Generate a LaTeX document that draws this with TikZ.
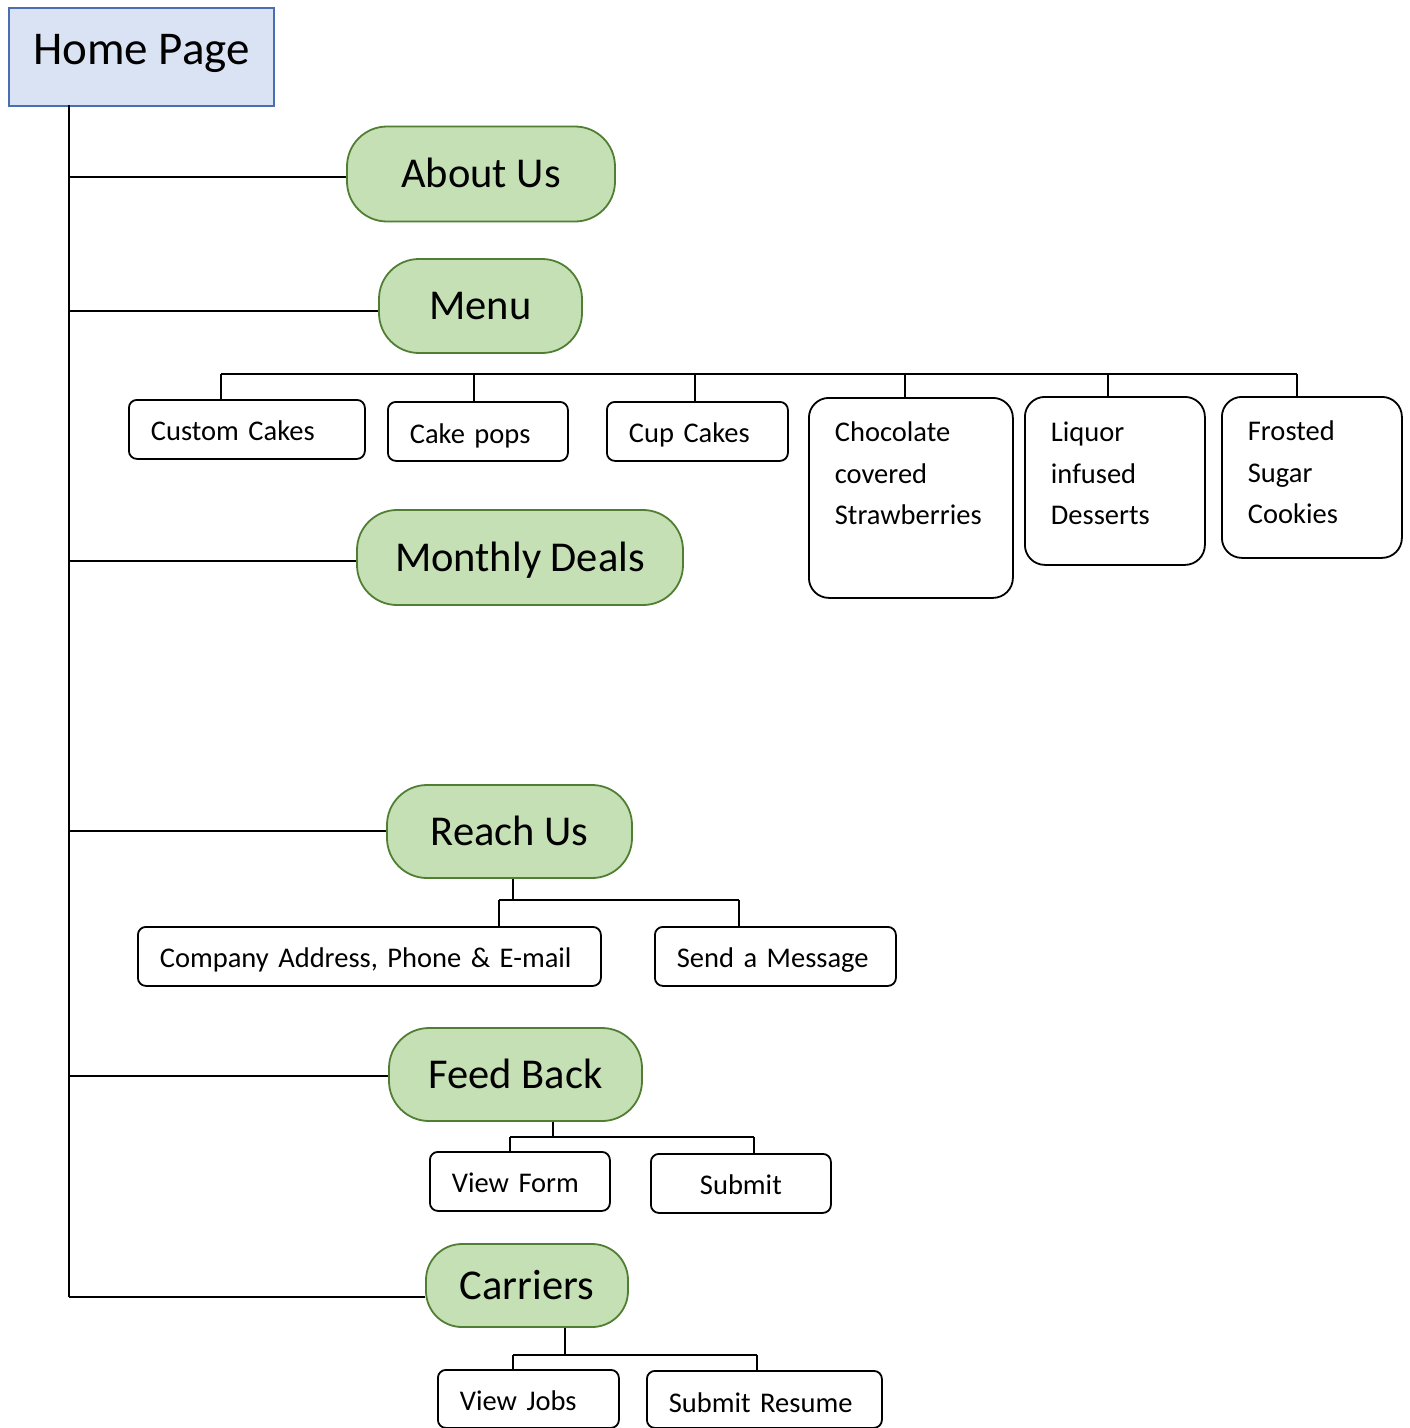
\documentclass[tikz,border=0pt]{standalone}
\usepackage{fontspec}
\setmainfont{Carlito}
\definecolor{homefill}{HTML}{DAE3F3}
\definecolor{homeborder}{HTML}{4A6FB0}
\definecolor{pillfill}{HTML}{C5E0B4}
\definecolor{pillborder}{HTML}{507E32}
\tikzset{
  homebox/.style={draw=homeborder, fill=homefill, line width=2pt, inner sep=0pt,
    minimum width=265pt, text height=56.5pt, text depth=41.5pt, anchor=north west,
    font=\fontsize{47}{56}\selectfont},
  pill/.style={draw=pillborder, fill=pillfill, line width=1.8pt, rounded corners=40pt,
    inner sep=0pt, text height=27pt, text depth=0pt, font=\fontsize{42.5}{50}\selectfont},
  item/.style={draw, line width=1.8pt, rounded corners=8pt, inner xsep=22pt, inner ysep=0pt,
    text height=41pt, text depth=18pt, align=left, anchor=north west,
    font=\fontsize{28.5}{41.5}\selectfont},
  tallitem/.style={item, rounded corners=20pt, inner xsep=26pt},
  conn/.style={line width=2pt, black}
}
\begin{document}
\begin{tikzpicture}[x=1pt,y=-1pt]
\useasboundingbox (0,0) rectangle (1410,1428);

% Home
\node[homebox] (home) at (8,7) {Home Page};

% main pills
\node[pill, minimum width=268pt, minimum height=95pt] (about) at (481,174) {About Us};
\node[pill, minimum width=203pt, minimum height=94pt] (menu) at (480.5,306) {Menu};
\node[pill, minimum width=326pt, minimum height=95pt] (deals) at (520,557.5) {Monthly Deals};
\node[pill, minimum width=245pt, minimum height=93pt] (reach) at (509.5,831.5) {Reach Us};
\node[pill, minimum width=253pt, minimum height=93pt] (feed) at (515.5,1074.5) {Feed Back};
\node[pill, minimum width=202pt, minimum height=83pt, rounded corners=36pt] (carr) at (527,1285.5) {Carriers};

% menu items
\node[item, text width=192pt] (cc) at (128,399) {Custom Cakes};
\node[item, text width=136pt, text height=42pt, text depth=17pt] (cp) at (387,401) {Cake pops};
\node[item, text width=137pt] (cup) at (606,401) {Cup Cakes};
\node[tallitem, text width=152pt, text height=44pt, text depth=156pt] (choc) at (808,397) {Chocolate\\covered\\Strawberries};
\node[tallitem, text width=128pt, text height=45pt, text depth=123pt] (liq) at (1024,396) {Liquor\\infused\\Desserts};
\node[tallitem, text width=128pt, text height=44pt, text depth=117pt] (fro) at (1221,396) {Frosted\\Sugar\\Cookies};

% reach items
\node[item, text width=419pt] (addr) at (137,926) {Company Address, Phone \& E-mail};
\node[item, text width=197pt] (msg) at (654,926) {Send a Message};

% feed items
\node[item, text width=136pt] (vf) at (429,1151) {View Form};
\node[item, text width=136pt, align=center] (sub) at (650,1153) {Submit};

% carriers items
\node[item, text width=137pt, text depth=17pt] (vj) at (437,1369) {View Jobs};
\node[item, text width=191pt, text height=42pt, text depth=15pt] (sr) at (646,1370) {Submit Resume};

% trunk
\coordinate (ttop) at (69,105);
\coordinate (tbot) at (69,1297);
\draw[conn] (ttop) -- (tbot);
\coordinate (b1) at (69,177);
\coordinate (b2) at (69,311);
\coordinate (b3) at (69,561);
\coordinate (b4) at (69,831);
\coordinate (b5) at (69,1076);
\draw[conn] (b1) -- (b1 -| about.west);
\draw[conn] (b2) -- (b2 -| menu.west);
\draw[conn] (b3) -- (b3 -| deals.west);
\draw[conn] (b4) -- (b4 -| reach.west);
\draw[conn] (b5) -- (b5 -| feed.west);
\draw[conn] (tbot) -- (tbot -| carr.west);

% menu bus
\coordinate (m1) at (221,374);
\coordinate (m2) at (474,374);
\coordinate (m3) at (695,374);
\coordinate (m4) at (905,374);
\coordinate (m5) at (1108,374);
\coordinate (m6) at (1297,374);
\draw[conn] (m1) -- (m6);
\draw[conn] (m1) -- (m1 |- cc.north);
\draw[conn] (m2) -- (m2 |- cp.north);
\draw[conn] (m3) -- (m3 |- cup.north);
\draw[conn] (m4) -- (m4 |- choc.north);
\draw[conn] (m5) -- (m5 |- liq.north);
\draw[conn] (m6) -- (m6 |- fro.north);

% reach bus
\coordinate (rj) at (513,900);
\coordinate (r1) at (499,900);
\coordinate (r2) at (739,900);
\draw[conn] (rj |- reach.south) -- (rj);
\draw[conn] (r1) -- (r2);
\draw[conn] (r1) -- (r1 |- addr.north);
\draw[conn] (r2) -- (r2 |- msg.north);

% feed bus
\coordinate (fj) at (553,1137);
\coordinate (f1) at (510,1137);
\coordinate (f2) at (754,1137);
\draw[conn] (fj |- feed.south) -- (fj);
\draw[conn] (f1) -- (f2);
\draw[conn] (f1) -- (f1 |- vf.north);
\draw[conn] (f2) -- (f2 |- sub.north);

% carriers bus
\coordinate (cj) at (565,1355);
\coordinate (c1) at (513,1355);
\coordinate (c2) at (757,1355);
\draw[conn] (cj |- carr.south) -- (cj);
\draw[conn] (c1) -- (c2);
\draw[conn] (c1) -- (c1 |- vj.north);
\draw[conn] (c2) -- (c2 |- sr.north);
\end{tikzpicture}
\end{document}
